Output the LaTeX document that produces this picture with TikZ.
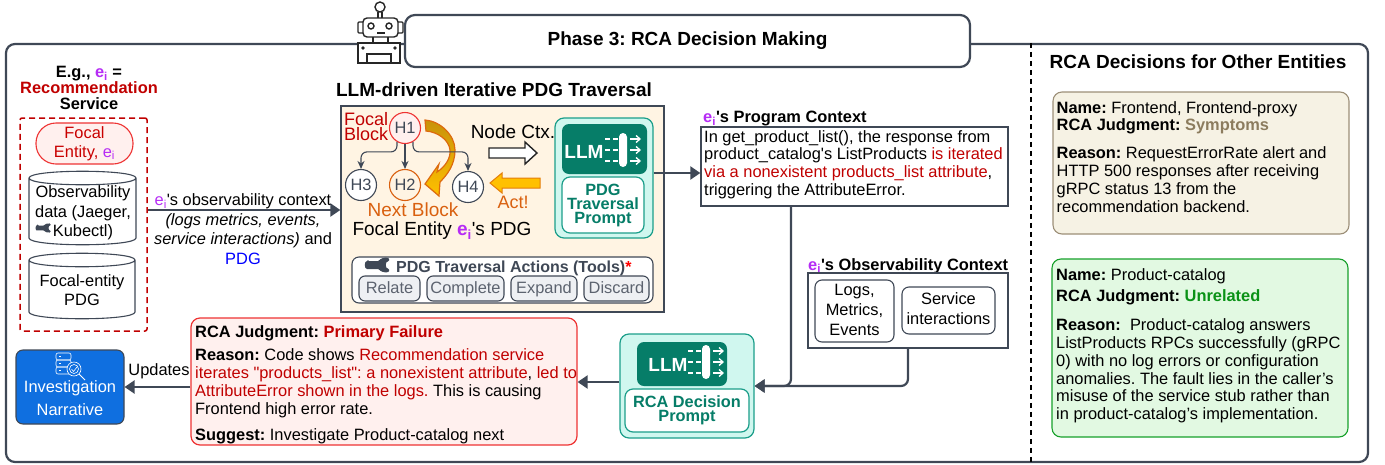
\documentclass[tikz,border=0pt]{standalone}
\usepackage{fontspec}
\setmainfont{Liberation Sans}
\usetikzlibrary{arrows.meta}
\frenchspacing

\definecolor{linegray}{HTML}{3F4856}
\definecolor{entpurple}{HTML}{B62CF5}
\definecolor{darkred}{HTML}{C00000}
\definecolor{tealdark}{HTML}{067D68}
\definecolor{tealpale}{HTML}{D0F7EF}
\definecolor{tealedge}{HTML}{1B9E8A}
\definecolor{creamfill}{HTML}{FFF4E3}
\definecolor{redfill}{HTML}{FFF0EE}
\definecolor{rededge}{HTML}{EE3333}
\definecolor{burnt}{HTML}{D9600F}
\definecolor{goldfill}{HTML}{FFC000}
\definecolor{golddark}{HTML}{C8920A}
\definecolor{btnfill}{HTML}{EEF0F3}
\definecolor{sandfill}{HTML}{F6F2E4}
\definecolor{sandedge}{HTML}{9C8F78}
\definecolor{sandtext}{HTML}{8C7C5E}
\definecolor{greenfill}{HTML}{E2F9E2}
\definecolor{greenedge}{HTML}{16A02A}
\definecolor{greentext}{HTML}{0A9216}
\definecolor{narrblue}{HTML}{0F6FE0}

\newcommand{\bodyfont}{\fontsize{16.4}{17.8}\selectfont}
\newcommand{\headfont}{\bfseries\fontsize{19}{20}\selectfont}
\newcommand{\redtext}[1]{\textcolor{darkred}{#1}}
\newcommand{\ei}{\textcolor{entpurple}{e\textsubscript{i}}}
\newcommand{\aps}{\textquotesingle}

\tikzset{
  every node/.style={font=\bodyfont,inner sep=0pt},
  panel/.style={draw=linegray,line width=1.3pt},
  flow/.style={-{Triangle[length=10pt,width=13pt]},line width=2.2pt,draw=linegray,rounded corners=7pt},
  treearrow/.style={-{Stealth[length=8pt,width=7pt]},line width=1.1pt,draw=linegray,rounded corners=6pt},
  roundbox/.style={draw=linegray,line width=1.1pt,rounded corners=7pt,fill=white,align=center},
  tealcard/.style={draw=tealedge,line width=1.2pt,fill=tealpale,rounded corners=9pt},
  llmbox/.style={fill=tealdark,rounded corners=7pt},
  promptbox/.style={draw=tealedge,line width=1.2pt,fill=white,rounded corners=8pt,align=center,text=tealdark,
    font=\bfseries\fontsize{16.3}{14}\selectfont},
  btn/.style={draw=linegray,line width=1.1pt,fill=btnfill,rounded corners=6pt,text=linegray!85,minimum height=25pt,
    text height=12pt,text depth=3pt},
  pdgnode/.style={circle,draw=linegray,line width=1.1pt,fill=white,minimum size=31pt,text=linegray},
  store/.style={draw=linegray,line width=1.1pt,fill=white},
  pics/llmlines/.style={code={
    \fill[white,rounded corners=4pt] (-4,-17) rectangle (4,17);
    \foreach \dy in {-11,0,11} {
      \draw[white,line width=1.2pt,dash pattern=on 5pt off 3pt] (-18,\dy) -- (-5,\dy);
      \draw[white,line width=1.3pt,-{Straight Barb[length=4pt,width=7pt]}] (7,\dy) -- (18,\dy);
    }
  }},
  pics/wrench/.style={code={
    \fill[linegray,rounded corners=1pt] (-15,-4) -- (-4,-4) .. controls (-3,-6) and (1,-8) .. (6,-7) -- (6,-3.5)
      .. controls (2,-4) and (2,4) .. (6,3.5) -- (6,7) .. controls (1,8) and (-3,6) .. (-4,4) -- (-15,4)
      .. controls (-19,4) and (-19,-4) .. (-15,-4) -- cycle;
  }}
}

\begin{document}
\begin{tikzpicture}[x=1pt,y=-1pt]
  \useasboundingbox (0,0) rectangle (1385,464);

  % Outer frame and title
  \node[draw=linegray,line width=2.2pt,rounded corners=9pt,minimum width=1362pt,minimum height=418pt] (frame) at (687,253) {};
  \node[draw=linegray,line width=2.2pt,rounded corners=10pt,fill=white,minimum width=565pt,minimum height=52pt,
    font=\headfont,text depth=5pt] (titlebox) at (687.5,41) {Phase 3: RCA Decision Making};

  % Robot
  \begin{scope}[line width=1.4pt,draw=black!85]
    \draw (380,7) circle (5);
    \draw (378,12) -- (378,18) (382,12) -- (382,18);
    \draw[rounded corners=4pt,fill=white] (363,18) rectangle (398,37);
    \draw[rounded corners=1pt] (363,22) -- (358,22) -- (358,33) -- (363,33);
    \draw[rounded corners=1pt] (398,22) -- (403,22) -- (403,33) -- (398,33);
    \draw (371,26) circle (3);
    \draw (389,26) circle (3);
    \draw (377,33) -- (385,33);
    \draw (373,37) -- (373,43) (388,37) -- (388,43);
    \draw[fill=white] (358,43) rectangle (400,63);
    \draw (363,48) circle (1);
    \draw (395,48) circle (1);
    \draw (367,63) -- (367,54) -- (391,54) -- (391,63);
  \end{scope}

  % Divider
  \coordinate (divtop) at (frame.north -| 1031,0);
  \coordinate (divbot) at (frame.south -| 1031,0);
  \draw[dash pattern=on 5pt off 4pt,line width=1.4pt,black] (divtop) -- (divbot);

  % Focal entity column
  \node[font=\bfseries\fontsize{16.4}{15.7}\selectfont,align=center] (egtext) at (89,88) {E.g., \ei\ =\\ \redtext{Recommendation}\\ Service};
  \node[draw=darkred,line width=1.5pt,dash pattern=on 6pt off 4pt,rounded corners=2pt,minimum width=127pt,minimum height=213pt] (focalbox) at (83.5,224.5) {};
  \node[draw=rededge,line width=1.1pt,fill=redfill,rounded corners=20pt,minimum width=97pt,minimum height=41pt,align=center,
    text=darkred!85!red] (focalpill) at (84.5,143.5) {Focal\\[1pt] Entity, \ei};
  \draw[store] (29,178) -- (29,238) .. controls (29,247) and (136,247) .. (136,238) -- (136,178)
    .. controls (136,169) and (29,169) .. (29,178) .. controls (29,187) and (136,187) .. (136,178);
  \draw[store] (29,260) -- (29,312) .. controls (29,321) and (135,321) .. (135,312) -- (135,260)
    .. controls (135,251) and (29,251) .. (29,260) .. controls (29,269) and (135,269) .. (135,260);
  \node[align=center,font=\fontsize{16.4}{19.6}\selectfont] (obstext) at (83,213) {Observability\\ data (Jaeger,\\ Kubectl)};
  \node[align=center,font=\fontsize{16.4}{19.6}\selectfont] (pdgtext) at (82,290) {Focal-entity\\ PDG};
  \pic[scale=.62] at (47,228) {wrench};

  % Traversal panel
  \node[font=\headfont] (travhead) at (494,90) {LLM-driven Iterative PDG Traversal};
  \node[panel,fill=creamfill,minimum width=323pt,minimum height=206pt] (travpanel) at (502.5,209) {};

  % Curved arrow
  \shade[top color=golddark,bottom color=goldfill,draw=burnt!90!goldfill,line width=1.2pt]
    (425,120) .. controls (440,121) and (455,135) .. (455,150) .. controls (455,165) and (447,175) .. (440,182)
    -- (439,196) -- (425,184) -- (439,164) -- (437,172) .. controls (445,167) and (451,158) .. (450,150)
    .. controls (449,140) and (438,132) .. (426,131) -- cycle;

  % PDG nodes
  \node[pdgnode,draw=rededge,fill=redfill] (h1) at (405,128) {H1};
  \node[pdgnode,draw=burnt,fill=creamfill] (h2) at (405,185) {H2};
  \node[pdgnode] (h3) at (361,185) {H3};
  \node[pdgnode] (h4) at (468,187) {H4};
  \draw[treearrow] (h1.240) -- ++(0,10) -| (h3.north);
  \draw[treearrow] (h1) -- (h2);
  \draw[treearrow] (h1.300) -- ++(0,10) -| (h4.north);

  \node[font=\fontsize{18}{15.5}\selectfont,text=darkred,align=left,anchor=west] (blocktext) at (344,126.5) {Focal\\ Block};
  \node[font=\fontsize{19}{20}\selectfont,text=burnt] (nexttext) at (413,210) {Next Block};
  \node[font=\fontsize{19}{20}\selectfont] (pdgcaption) at (442,231) {Focal Entity \textbf{\ei}\aps s PDG};
  \node[font=\fontsize{19}{20}\selectfont] (ctxtext) at (513,132) {Node Ctx.};
  \node[font=\fontsize{18}{20}\selectfont,text=burnt] (acttext) at (513,202) {Act!};

  % Block arrows
  \draw[black!85,line width=1.4pt,fill=white] (489,148) -- (525,148) -- (525,142) -- (537,153) -- (525,164) -- (525,158) -- (489,158) -- cycle;
  \draw[burnt!70!goldfill,line width=1pt,fill=goldfill] (540,178) -- (502,178) -- (502,173) -- (490,183) -- (502,193) -- (502,188) -- (540,188) -- cycle;

  % LLM card of the traversal
  \node[tealcard,minimum width=98pt,minimum height=120pt] (travcard) at (604,178) {};
  \node[llmbox,minimum width=85pt,minimum height=50pt] (travllm) at (604.5,149) {};
  \node[text=white,font=\bfseries\fontsize{19}{20}\selectfont] (travllmtext) at (584,152) {LLM};
  \pic at (623,150) {llmlines};
  \node[promptbox,minimum width=82pt,minimum height=56pt] (travprompt) at (603,205) {PDG\\ Traversal\\ Prompt};

  % Tools
  \node[roundbox,minimum width=301pt,minimum height=46pt] (toolsbox) at (502.5,280) {};
  \pic at (383,265) {wrench};
  \node[font=\bfseries\fontsize{16}{18}\selectfont,text=linegray,anchor=west] (toolstext) at (396,268) {PDG Traversal Actions (Tools)\textcolor{red}{*}};
  \node[btn,minimum width=61pt] (relate) at (389.5,288.5) {Relate};
  \node[btn,minimum width=77pt] (complete) at (465.5,288.5) {Complete};
  \node[btn,minimum width=66pt] (expand) at (544,288.5) {Expand};
  \node[btn,minimum width=65pt] (discard) at (616.5,288.5) {Discard};

  % Context passed to the panel
  \node[align=center,font=\fontsize{16.4}{19.6}\selectfont] (ctxnote) at (243,229) {\ei\aps s observability context\\ \textit{(logs metrics, events,}\\ \textit{service interactions)} and\\ \textcolor{blue}{PDG}};
  \draw[flow] (focalbox.east |- ctxnote.center) ++(0,-19) -- (travpanel.west |- 0,210);

  % Program context
  \node[font=\bfseries\fontsize{16.4}{18}\selectfont,anchor=west] (proghead) at (703,118.5) {\ei\aps s Program Context};
  \node[panel,minimum width=307pt,minimum height=79pt] (progctx) at (854.5,166.5) {};
  \node[anchor=north west] (progtext) at (704,130) [align=left] {In get\_product\_list(), the response from\\ product\_catalog\aps s ListProducts \redtext{is iterated}\\ \redtext{via a nonexistent products\_list attribute},\\ triggering the AttributeError.};

  % Observability context
  \node[font=\bfseries\fontsize{16.4}{18}\selectfont,anchor=west] (obshead) at (808,266) {\ei\aps s Observability Context};
  \node[panel,minimum width=200pt,minimum height=75pt] (obsctx) at (908,310.5) {};
  \node[roundbox,minimum width=79pt,minimum height=62pt,font=\fontsize{16.4}{19.8}\selectfont,text depth=2pt] (logsbox) at (854.5,311) {Logs,\\ Metrics,\\ Events};
  \node[roundbox,minimum width=93pt,minimum height=47pt,font=\fontsize{16.4}{19.8}\selectfont,text depth=4pt] (svcbox) at (948.5,310.5) {Service\\ interactions};

  % Decision card
  \node[tealcard,minimum width=134pt,minimum height=104pt] (rcacard) at (687,386) {};
  \node[llmbox,minimum width=90pt,minimum height=44pt] (rcallm) at (682,364) {};
  \node[text=white,font=\bfseries\fontsize{19}{20}\selectfont] (rcallmtext) at (668,365) {LLM};
  \pic at (706,362) {llmlines};
  \node[promptbox,minimum width=124pt,minimum height=43pt] (rcaprompt) at (687,410.5) {RCA Decision\\ Prompt};

  % Judgment
  \node[draw=rededge,line width=1.2pt,fill=redfill,rounded corners=9pt,minimum width=386pt,minimum height=127pt] (judgecard) at (384,381.5) {};
  \node[anchor=north west,align=left] (judgetext) at (195,325) {\textbf{RCA Judgment: \redtext{Primary Failure}}\\[6pt]
    \textbf{Reason:} Code shows \redtext{Recommendation service}\\
    \redtext{iterates \textquotedbl products\_list\textquotedbl: a nonexistent attribute}, \redtext{led to}\\
    \redtext{AttributeError shown in the logs.} This is causing\\
    Frontend high error rate.\\[8.5pt]
    \textbf{Suggest:} Investigate Product-catalog next};

  % Narrative
  \node[draw=linegray,line width=1.1pt,fill=narrblue,rounded corners=7pt,minimum width=108pt,minimum height=74pt] (narrbox) at (70,387) {};
  \node[text=white,align=center,font=\fontsize{16.4}{23}\selectfont] (narrtext) at (70,398.5) {Investigation\\ Narrative};
  \begin{scope}[white,line width=.6pt]
    \foreach \ty in {353,360,367} {
      \draw[rounded corners=2pt] (56,\ty) rectangle (71,\ty+7);
      \draw (59,\ty+3.5) -- (61,\ty+3.5);
    }
    \draw[fill=narrblue] (74,369) circle (7);
    \draw (74,369) circle (4.5);
    \draw (71.5,369) -- (73.5,371.5) -- (77,367);
    \draw[line width=1pt] (79,374) -- (85,380);
  \end{scope}
  \node (updatetext) at (159,371) {Updates};

  % Connectors
  \draw[flow] ([yshift=5pt]travcard.east) -- ([yshift=-6.5pt]progctx.west);
  \draw[flow] (progctx.south -| 791,0) |- (rcacard.east);
  \draw[flow] (obsctx.south) |- (rcacard.east);
  \draw[flow] ([yshift=4pt]rcacard.west) -- (judgecard.east |- 0,382);
  \draw[flow] (judgecard.west |- 0,387) -- (narrbox.east);

  % Other entities
  \node[font=\headfont] (otherhead) at (1198,62) {RCA Decisions for Other Entities};
  \node[draw=sandedge,line width=1.1pt,fill=sandfill,rounded corners=9pt,minimum width=296pt,minimum height=142pt] (sandcard) at (1201,163) {};
  \node[anchor=north west,align=left] (sandtext) at (1056.5,101) {\textbf{Name:} Frontend, Frontend-proxy\\
    \textbf{RCA Judgment: \textcolor{sandtext}{Symptoms}}\\[10pt]
    \textbf{Reason:} RequestErrorRate alert and\\
    HTTP 500 responses after receiving\\
    gRPC status 13 from the\\
    recommendation backend.};
  \node[draw=greenedge,line width=1.1pt,fill=greenfill,rounded corners=9pt,minimum width=296pt,minimum height=178pt] (greencard) at (1200,348) {};
  \node[anchor=north west,align=left] (greentext) at (1056,268) {\textbf{Name:} Product-catalog\\[4pt]
    \textbf{RCA Judgment: \textcolor{greentext}{Unrelated}}\\[11pt]
    \textbf{Reason:}\ \ Product-catalog answers\\
    ListProducts RPCs successfully (gRPC\\
    0) with no log errors or configuration\\
    anomalies. The fault lies in the caller’s\\
    misuse of the service stub rather than\\
    in product-catalog’s implementation.};
\end{tikzpicture}
\end{document}
